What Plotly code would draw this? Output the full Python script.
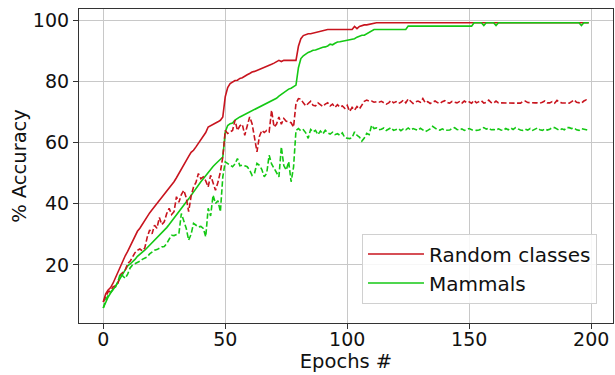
import plotly.graph_objects as go

epochs = list(range(200))

train_random = [
    7.9, 10.5, 11.8, 12.6, 14.0, 15.8, 18.0, 19.8, 21.5, 23.0,
    24.4, 26.0, 27.8, 29.6, 31.0, 32.0, 33.3, 34.6, 35.8, 37.0,
    38.0, 39.0, 40.0, 41.0, 42.0, 43.0, 44.0, 45.0, 46.2, 47.2,
    48.5, 50.0, 51.2, 52.6, 54.0, 55.5, 56.8, 57.5, 58.6, 59.7,
    60.8, 62.0, 63.3, 65.1, 65.5, 65.8, 66.3, 66.8, 67.3, 68.4,
    75.0, 78.0, 79.3, 79.8, 80.3, 80.4, 81.0, 81.2, 81.8, 82.2,
    82.6, 83.1, 83.3, 83.6, 84.0, 84.2, 84.7, 84.9, 85.2, 85.6,
    86.0, 86.4, 86.9, 86.5, 86.9, 86.9, 86.9, 86.9, 86.9, 86.9,
    91.5, 94.0, 95.0, 95.4, 95.6, 95.6, 95.8, 96.0, 96.3, 96.5,
    96.8, 97.0, 97.0, 97.0, 97.0, 97.0, 97.0, 97.0, 97.0, 97.0,
    97.0, 97.0, 97.0, 98.0, 97.3, 98.0, 98.3, 98.5, 98.5, 98.7,
    99.0, 99.2, 99.2, 99.2, 99.2, 99.2, 99.2, 99.2, 99.2, 99.2,
    99.2, 99.2, 99.2, 99.2, 99.2, 99.2, 99.2, 99.2, 99.2, 99.2,
    99.2, 99.2, 99.2, 99.2, 99.2, 99.2, 99.2, 99.2, 99.2, 99.2,
    99.2, 99.2, 99.2, 99.2, 99.2, 99.2, 99.2, 99.2, 99.2, 99.2,
    99.2, 99.2, 99.2, 99.2, 99.2, 99.2, 99.2, 99.2, 99.2, 99.2,
    99.2, 99.2, 99.2, 99.2, 99.2, 99.2, 99.2, 99.2, 99.2, 99.2,
    99.2, 99.2, 99.2, 99.2, 99.2, 99.2, 99.2, 99.2, 99.2, 99.2,
    99.2, 99.2, 99.2, 99.2, 99.2, 99.2, 99.2, 99.2, 99.2, 99.2,
    99.2, 99.2, 99.2, 99.2, 99.2, 99.2, 99.2, 99.2, 99.2, 99.2,
]

train_mammals = [
    5.9, 8.0, 9.5, 10.8, 11.8, 13.0, 14.4, 15.8, 17.2, 18.6,
    19.7, 20.3, 21.0, 21.8, 22.8, 23.4, 24.0, 24.8, 25.6, 26.4,
    27.2, 28.0, 28.8, 29.6, 30.4, 31.2, 32.2, 33.2, 34.3, 35.4,
    36.6, 37.6, 38.6, 39.6, 40.6, 41.6, 42.8, 44.0, 45.2, 46.2,
    47.2, 48.2, 49.2, 50.4, 51.3, 52.2, 53.0, 53.8, 54.4, 55.3,
    63.5, 65.6, 66.2, 66.4, 67.4, 68.0, 68.4, 68.8, 69.2, 69.6,
    70.0, 70.6, 71.0, 71.3, 71.7, 72.0, 72.4, 72.8, 73.3, 73.6,
    74.0, 74.5, 75.2, 75.8, 76.5, 77.1, 77.5, 77.8, 78.3, 78.8,
    84.5, 87.5, 88.4, 89.0, 89.5, 89.8, 90.2, 90.3, 90.6, 91.0,
    91.2, 91.3, 91.6, 92.2, 92.0, 92.5, 92.9, 93.0, 93.2, 93.3,
    93.5, 93.8, 94.0, 94.0, 94.5, 94.8, 95.1, 95.1, 95.6, 96.0,
    96.7, 97.0, 97.0, 97.0, 97.0, 97.0, 97.0, 97.0, 97.0, 97.0,
    97.0, 97.0, 97.0, 97.0, 97.0, 98.1, 98.1, 98.1, 98.1, 98.1,
    98.1, 98.1, 98.1, 98.1, 98.1, 98.1, 98.1, 98.1, 98.1, 98.1,
    98.1, 98.1, 98.1, 98.1, 98.1, 98.1, 98.1, 98.1, 98.1, 98.1,
    98.1, 98.1, 99.2, 99.2, 99.2, 99.2, 98.3, 99.2, 99.2, 99.2,
    99.2, 98.3, 99.2, 99.2, 99.2, 99.2, 99.2, 99.2, 99.2, 99.2,
    99.2, 99.2, 99.2, 99.2, 99.2, 99.2, 99.2, 99.2, 99.2, 99.2,
    99.2, 99.2, 99.2, 99.2, 99.2, 99.2, 99.2, 99.2, 99.2, 99.2,
    99.2, 99.2, 99.2, 99.2, 99.2, 99.2, 98.3, 99.2, 99.2, 99.2,
]

test_random = [
    7.9, 9.8, 11.2, 11.5, 12.8, 13.2, 14.0, 16.8, 17.5, 18.3,
    20.5, 21.2, 22.6, 24.0, 24.8, 25.2, 24.6, 25.5, 29.0, 31.4,
    30.2, 33.0, 32.0, 35.5, 33.2, 34.1, 36.8, 38.5, 36.5, 37.4,
    42.3, 40.5, 43.0, 44.4, 42.0, 37.4, 42.5, 45.5, 47.0, 49.9,
    48.2, 48.8, 47.5, 45.5, 49.3, 47.0, 44.4, 47.0, 50.4, 55.3,
    64.0, 63.0, 63.5, 64.0, 67.3, 64.0, 65.5, 66.0, 62.4, 65.0,
    68.4, 66.2, 62.0, 57.0, 62.0, 64.0, 63.3, 64.0, 63.5, 70.6,
    65.1, 66.0, 68.4, 66.0, 67.9, 67.0, 66.8, 66.5, 65.1, 72.8,
    74.4, 74.2, 73.0, 72.0, 72.8, 73.5, 72.2, 72.0, 73.0, 72.5,
    71.8, 72.6, 73.0, 72.0, 72.6, 71.5, 72.4, 71.6, 72.0, 71.2,
    72.2, 70.2, 71.5, 70.6, 71.8, 71.0, 72.5, 73.5, 73.9, 73.6,
    73.6, 73.2, 73.4, 73.2, 73.5, 73.0, 72.6, 73.0, 73.8, 73.0,
    73.4, 72.8, 73.2, 73.9, 73.0, 74.3, 73.4, 72.8, 73.3, 73.6,
    73.2, 74.4, 73.0, 73.4, 72.8, 73.2, 73.6, 73.1, 72.8, 73.4,
    73.7, 73.1, 72.9, 73.5, 73.2, 73.0, 73.4, 72.9, 73.6, 73.1,
    73.3, 72.9, 73.8, 73.0, 73.4, 73.7, 72.9, 73.2, 73.9, 73.1,
    72.9, 73.6, 73.0, 73.0, 73.0, 72.9, 73.0, 73.0, 72.9, 73.0,
    73.0, 72.9, 73.4, 73.6, 73.1, 73.0, 72.9, 73.0, 73.0, 72.9,
    73.2, 73.6, 73.0, 73.0, 73.4, 72.9, 73.8, 73.2, 73.0, 73.0,
    73.0, 72.9, 73.4, 74.0, 73.2, 73.0, 72.9, 73.6, 74.0, 73.6,
]

test_mammals = [
    5.9, 8.5, 10.0, 11.2, 12.0, 12.8, 14.5, 17.2, 16.5, 15.6,
    17.0, 19.0, 20.0, 20.4, 20.6, 21.2, 21.8, 22.2, 22.6, 23.6,
    24.3, 24.8, 25.0, 25.6, 25.9, 26.0, 27.0, 28.4, 29.7, 29.6,
    30.0, 30.2, 36.8, 34.0, 32.0, 28.1, 30.0, 33.6, 33.0, 32.4,
    32.6, 31.9, 29.2, 38.5, 36.0, 42.8, 40.1, 41.0, 37.4, 48.8,
    53.7, 53.2, 52.8, 52.1, 53.0, 54.8, 52.4, 52.6, 52.4, 52.1,
    51.0, 49.3, 50.0, 53.2, 52.6, 51.2, 48.8, 50.0, 55.9, 53.0,
    51.6, 50.0, 48.8, 58.6, 52.5, 51.0, 53.8, 47.2, 52.0, 64.0,
    64.6, 63.8, 64.2, 63.2, 61.4, 64.3, 63.5, 64.0, 62.6, 63.8,
    62.8, 64.0, 63.2, 62.8, 63.4, 62.6, 62.9, 62.4, 63.2, 61.6,
    61.5, 61.3, 61.6, 63.5, 62.4, 61.8, 60.5, 61.5, 63.0, 62.6,
    65.7, 64.6, 64.8, 64.2, 64.4, 64.8, 64.0, 64.5, 64.9, 64.0,
    64.4, 64.6, 63.9, 64.5, 64.2, 64.8, 64.1, 64.6, 64.3, 64.0,
    64.7, 64.2, 63.6, 64.0, 64.5, 65.3, 64.6, 64.2, 64.1, 64.5,
    64.0, 64.0, 64.1, 64.6, 64.9, 64.3, 64.1, 64.5, 64.0, 64.3,
    64.6, 64.2, 64.0, 64.0, 64.1, 64.5, 64.9, 64.4, 64.8, 64.2,
    64.3, 64.1, 64.5, 64.1, 64.0, 64.6, 64.2, 64.8, 64.3, 64.9,
    64.4, 64.1, 64.0, 64.4, 64.1, 64.6, 64.0, 64.3, 64.8, 64.2,
    64.0, 64.5, 64.1, 64.4, 64.9, 64.9, 64.4, 64.0, 64.5, 64.2,
    64.9, 64.9, 64.6, 64.8, 64.2, 64.0, 64.6, 64.5, 64.2, 64.0,
]

series_names = ["Random classes", "Mammals"]
x_ticks = [0, 50, 100, 150, 200]
y_ticks = [20, 40, 60, 80, 100]
red = "#c8141e"
green = "#14c814"
font_family = "DejaVu Sans, Liberation Sans, sans-serif"

fig = go.Figure()
fig.add_trace(go.Scatter(x=epochs, y=train_random, mode="lines", name=series_names[0],
                         line=dict(color=red, width=1.6)))
fig.add_trace(go.Scatter(x=epochs, y=train_mammals, mode="lines", name=series_names[1],
                         line=dict(color=green, width=1.6)))
fig.add_trace(go.Scatter(x=epochs, y=test_random, mode="lines", showlegend=False,
                         line=dict(color=red, width=1.6, dash="5.5px,2.5px")))
fig.add_trace(go.Scatter(x=epochs, y=test_mammals, mode="lines", showlegend=False,
                         line=dict(color=green, width=1.6, dash="5.5px,2.5px")))

axis_common = dict(
    showgrid=True, gridcolor="#c8c8c8", gridwidth=1,
    showline=True, linecolor="#333333", linewidth=1.2, mirror=True,
    ticks="outside", ticklen=5, tickcolor="#333333",
    tickfont=dict(size=19, color="#111111", family=font_family),
    zeroline=False, automargin=False,
)

fig.update_layout(
    width=615, height=375,
    margin=dict(l=79, r=2, t=9, b=52, autoexpand=False),
    plot_bgcolor="white", paper_bgcolor="white",
    font=dict(family=font_family, color="#111111"),
    xaxis=dict(range=[-9.95, 208.95], tickvals=x_ticks,
               title=dict(text="Epochs #", font=dict(size=19.5), standoff=4), **axis_common),
    yaxis=dict(range=[1.0, 103.7], tickvals=y_ticks,
               title=dict(text="% Accuracy", font=dict(size=19.5), standoff=1), **axis_common),
    legend=dict(x=0.97, y=0.062, xanchor="right", yanchor="bottom",
                bgcolor="rgba(255,255,255,0.85)", bordercolor="#d0d0d0", borderwidth=1,
                font=dict(size=20, family=font_family, color="#111111"),
                itemwidth=56, tracegroupgap=0),
    showlegend=True,
)
fig.update_xaxes(ticklabelstandoff=-6)

fig.write_html("out.html", post_script="document.body.style.margin='0px';",
               config={"displayModeBar": False})
